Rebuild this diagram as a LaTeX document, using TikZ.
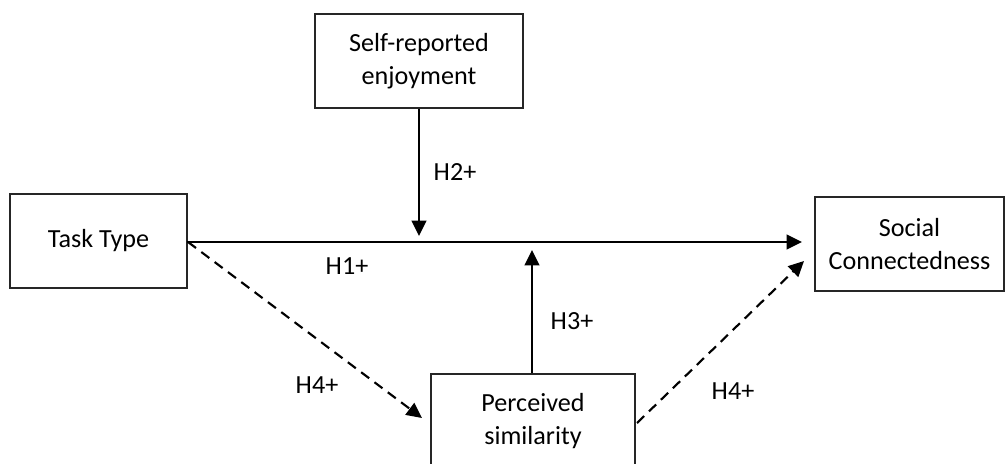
\documentclass[tikz,border=0pt]{standalone}
\usepackage{fontspec}
\setmainfont{Carlito}
\usetikzlibrary{arrows.meta}
\begin{document}
\begin{tikzpicture}[x=0.75pt,y=-0.75pt,
  box/.style={draw=black!85,line width=0.8pt,rectangle,minimum height=70.5pt,inner sep=0pt,align=center,
    font=\fontsize{19.6}{24.5}\selectfont},
  arr/.style={line width=1.6pt,-{Triangle[length=11.5pt,width=11pt]}},
  dsh/.style={arr,dash pattern=on 7.5pt off 5pt},
  lbl/.style={font=\fontsize{19.6}{24.5}\selectfont,inner sep=0pt}]
\useasboundingbox (0,0) rectangle (1008,464);
\begin{scope}
\clip (0,0) rectangle (1008,464);
\node[box,minimum width=132.75pt] (task) at (98.5,241) {Task Type};
\node[box,minimum width=156pt] (self) at (419,61) {Self-reported\\enjoyment};
\node[box,minimum width=141.75pt] (soc) at (909.5,244) {Social\\Connectedness};
\node[box,minimum width=153pt] (perc) at (533,421) {Perceived\\similarity};
\end{scope}
\coordinate (mainend) at (815,242);
\coordinate (mainstart) at (187,242);
\coordinate (h2tip) at (419,236);
\coordinate (h3tip) at (532,250);
\coordinate (d1s) at (188,242);
\coordinate (d1e) at (422,418);
\coordinate (d2s) at (637,423);
\coordinate (d2e) at (804,261);
\draw[arr,shorten >=9.75pt] (mainstart) -- (mainend);
\draw[arr] (self.south) -- (h2tip);
\draw[arr] (perc.north -| h3tip) -- (h3tip);
\draw[dsh] (d1s) -- (d1e);
\draw[dsh] (d2s) -- (d2e);
\node[lbl] (l2) at (455,172) {H2+};
\node[lbl] (l1) at (347,266) {H1+};
\node[lbl] (l3) at (572,321) {H3+};
\node[lbl] (l4a) at (317,385) {H4+};
\node[lbl] (l4b) at (733,391) {H4+};
\end{tikzpicture}
\end{document}
